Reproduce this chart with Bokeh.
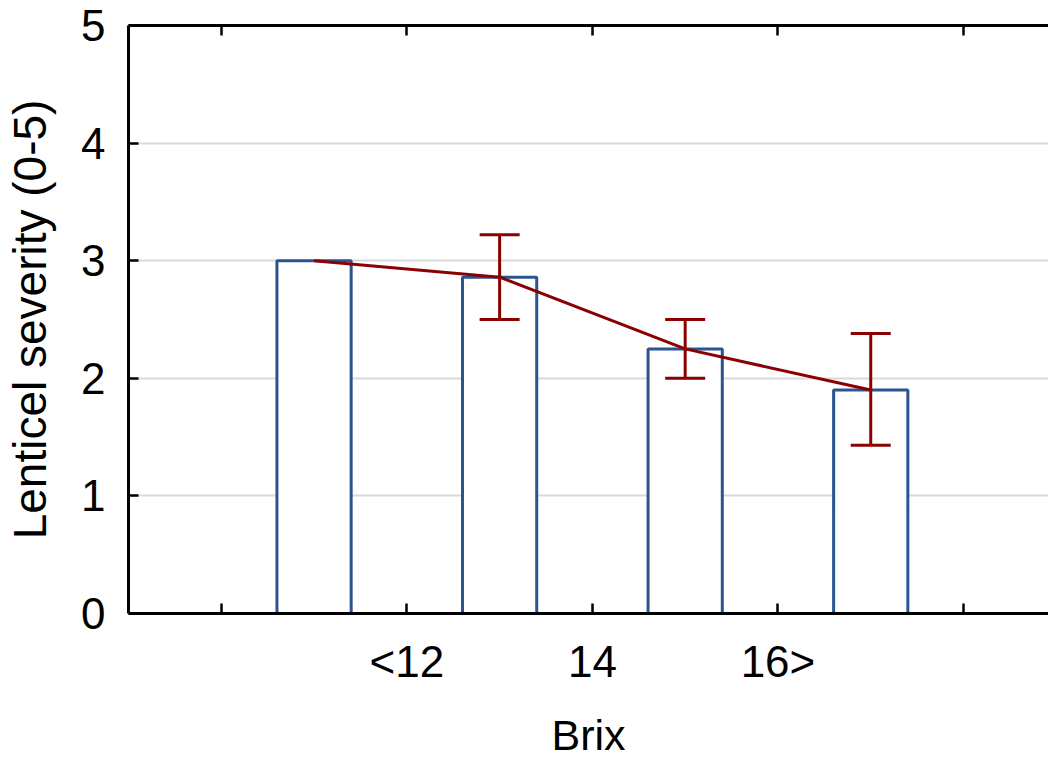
from bokeh.plotting import figure
from bokeh.models import Range1d, FixedTicker, LinearAxis, Whisker, TeeHead, ColumnDataSource
from bokeh.embed import file_html
from bokeh.resources import INLINE

# ---- data ----
group_x = [1.5, 2.5, 3.5, 4.5]
mean_severity = [3.0, 2.86, 2.25, 1.90]
err_x = [2.5, 3.5, 4.5]
err_lower = [2.50, 2.00, 1.43]
err_upper = [3.22, 2.50, 2.38]
tick_pos = [1, 2, 3, 4, 5]
tick_labels = ["", "<12", "14", "16>", ""]
y_ticks = [0, 1, 2, 3, 4, 5]

FONT = "Liberation Sans"
BLUE = "#2b5592"
RED = "#8b0000"

p = figure(width=1048, height=762, output_backend="svg", toolbar_location=None,
           x_range=Range1d(0.5, 5.458), y_range=Range1d(0, 5),
           min_border_left=128, min_border_right=0, min_border_top=25, min_border_bottom=149)
p.outline_line_color = None
p.background_fill_color = "white"
p.border_fill_color = "white"

p.xgrid.grid_line_color = None
p.ygrid.grid_line_color = "#d9d9d9"
p.ygrid.grid_line_width = 2
p.ygrid.ticker = FixedTicker(ticks=[1, 2, 3, 4])

# bars
p.vbar(x=group_x, top=mean_severity, bottom=0, width=0.4, fill_color="white",
       line_color=BLUE, line_width=3)

# mean line
p.line(group_x, mean_severity, line_color=RED, line_width=3)

# error bars
src = ColumnDataSource(dict(x=err_x, lower=err_lower, upper=err_upper))
w = Whisker(base="x", lower="lower", upper="upper", source=src,
            line_color=RED, line_width=3, level="overlay",
            upper_head=TeeHead(size=40, line_color=RED, line_width=3),
            lower_head=TeeHead(size=40, line_color=RED, line_width=3))
p.add_layout(w)

# axes
for ax in (p.xaxis[0], p.yaxis[0]):
    ax.axis_line_width = 3
    ax.axis_line_color = "black"
    ax.major_tick_in = 10
    ax.major_tick_out = 0
    ax.major_tick_line_width = 2.5
    ax.minor_tick_line_color = None
    ax.major_label_text_font = FONT
    ax.major_label_text_font_size = "44px"
    ax.major_label_text_color = "black"
    ax.axis_label_text_font = FONT
    ax.axis_label_text_font_style = "normal"
    ax.axis_label_text_color = "black"

p.xaxis.ticker = FixedTicker(ticks=tick_pos)
p.xaxis.major_label_overrides = {t: l for t, l in zip(tick_pos, tick_labels)}
p.xaxis.axis_label = "Brix"
p.xaxis.axis_label_text_font_size = "43px"
p.xaxis.major_label_standoff = 23
p.xaxis.axis_label_standoff = 22

p.yaxis.ticker = FixedTicker(ticks=y_ticks)
p.yaxis.axis_label = "Lenticel severity (0-5)"
p.yaxis.axis_label_text_font_size = "46px"
p.yaxis.major_label_standoff = 23
p.yaxis.axis_label_standoff = 22

top_axis = LinearAxis(ticker=FixedTicker(ticks=tick_pos), axis_line_width=3,
                      major_tick_in=10, major_tick_out=0, major_tick_line_width=2.5,
                      minor_tick_line_color=None, major_label_text_font_size="0px",
                      major_label_standoff=0)
top_axis.major_label_overrides = {t: "" for t in tick_pos}
p.add_layout(top_axis, "above")

open("out.html", "w").write(file_html(p, INLINE))
